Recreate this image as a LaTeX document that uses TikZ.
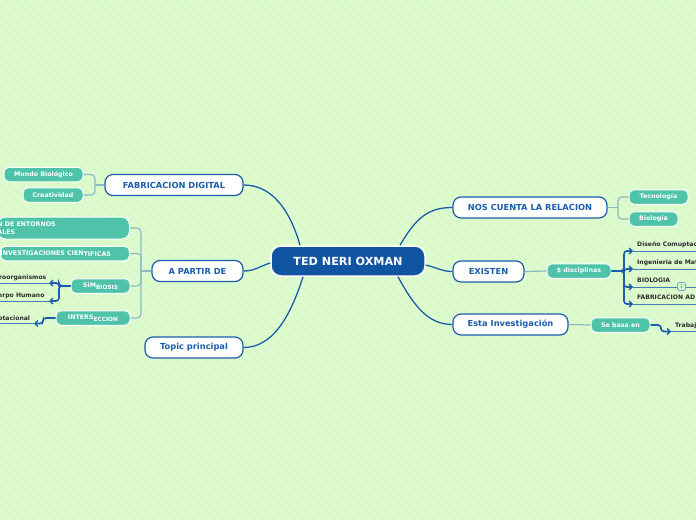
\documentclass[tikz,border=0pt]{standalone}
\usepackage{fontspec}
\setmainfont{DejaVu Sans}
\usetikzlibrary{arrows.meta}
\definecolor{bgc}{RGB}{217,250,200}
\definecolor{dkblue}{RGB}{16,84,162}
\definecolor{bordblue}{RGB}{26,93,171}
\definecolor{teal}{RGB}{78,195,170}
\definecolor{lconn}{RGB}{140,185,200}
\definecolor{lbltxt}{RGB}{45,45,45}
\tikzset{
  mainbox/.style={fill=dkblue, draw=white, line width=1.5pt, text=white, font=\bfseries\fontsize{11.2}{13}\selectfont, minimum width=154pt, minimum height=30pt, rounded corners=10pt, inner sep=0pt},
  topicbox/.style={fill=white, draw=bordblue, line width=1.2pt, text=bordblue, font=\bfseries\fontsize{8.3}{10}\selectfont, minimum height=21pt, rounded corners=8pt, inner sep=0pt},
  subbox/.style={fill=teal, draw=white, line width=1pt, text=white, font=\bfseries\fontsize{6.3}{7.5}\selectfont, minimum height=14.5pt, rounded corners=5pt, inner sep=0pt},
  lbl/.style={text=lbltxt, font=\bfseries\fontsize{6.1}{7}\selectfont, inner sep=0pt, anchor=base west},
  mainconn/.style={draw=bordblue, line width=1.3pt},
  lightconn/.style={draw=lconn, line width=1.2pt, rounded corners=4pt},
  thickarr/.style={draw=bordblue, line width=1.6pt, rounded corners=3pt, -{Straight Barb[length=3pt,width=6pt,line width=1.3pt]}},
  thinline/.style={draw=bordblue!80, line width=0.7pt},
}
\begin{document}
\begin{tikzpicture}[x=1pt,y=-1pt]
\useasboundingbox (0,0) rectangle (696,520);
\clip (0,0) rectangle (696,520);
\fill[bgc] (0,0) rectangle (696,520);
\foreach \i in {-520,-510,...,700} \draw[white, opacity=0.14, line width=4pt] (\i,0) -- (\i+520,520);

% central
\node[mainbox] (main) at (348,261) {TED NERI OXMAN};

% left topics
\node[topicbox, minimum width=138pt] (fab) at (174,185) {FABRICACION DIGITAL};
\node[topicbox, minimum width=91pt] (apartir) at (197.5,271) {A PARTIR DE};
\node[topicbox, minimum width=98pt] (topic) at (194,347.5) {Topic principal};

% right topics
\node[topicbox, minimum width=154pt] (nos) at (530,207.5) {NOS CUENTA LA RELACION};
\node[topicbox, minimum width=71pt] (existen) at (488.5,271.5) {EXISTEN};
\node[topicbox, minimum width=115pt] (esta) at (510.5,324.5) {Esta Investigación};

% main connectors
\draw[mainconn] ([xshift=-48pt]main.north) .. controls (290,210) and (272,185) .. (fab.east);
\draw[mainconn] ([yshift=-2pt]main.west) .. controls (260,266) and (255,271) .. (apartir.east);
\draw[mainconn] ([xshift=-45pt]main.south) .. controls (290,318) and (272,347.5) .. (topic.east);
\draw[mainconn] ([xshift=52pt]main.north) .. controls (416,218) and (428,207.5) .. (nos.west);
\draw[mainconn] ([yshift=-4pt]main.east) .. controls (438,268) and (442,271.5) .. (existen.west);
\draw[mainconn] ([xshift=50pt]main.south) .. controls (414,306) and (428,324.5) .. (esta.west);

% FABRICACION children
\node[subbox, minimum width=79pt] (mundo) at (43.5,174.5) {Mundo Biológico};
\node[subbox, minimum width=60pt] (creat) at (53,195) {Creatividad};
\coordinate (fabj) at (95,185);
\draw[lightconn] (fab.west) -- (fabj);
\draw[lightconn] (mundo.east) -| (fabj);
\draw[lightconn] (creat.east) -| (fabj);

% A PARTIR DE children
\node[subbox, anchor=east, text width=132pt, align=left, inner xsep=0pt, inner ysep=3.5pt, minimum height=22pt, rounded corners=8pt] (entornos) at (130,228) {N DE ENTORNOS\\ALES};
\node[subbox, anchor=east, text width=129pt, align=left, inner xsep=0pt] (invest) at (130,253.5) {INVESTIGACIONES CIEN\raisebox{-1.3pt}{TIFICAS}};
\node[subbox, minimum width=59pt] (simb) at (100.5,286) {SIM\raisebox{-1.5pt}{\fontsize{5.8}{7}\selectfont BIOSIS}};
\node[subbox, minimum width=74pt] (inter) at (93,318) {INTERS\raisebox{-1.5pt}{\fontsize{5.8}{7}\selectfont ECCION}};
\coordinate (apj) at (141,271);
\draw[lightconn] (apartir.west) -- (apj);
\draw[lightconn] (entornos.east) -| (apj);
\draw[lightconn] (invest.east) -| (apj);
\draw[lightconn] (simb.east) -| (apj);
\draw[lightconn] (inter.east) -| (apj);

% SIMBIOSIS arrows
\coordinate (micro) at (49,283);
\coordinate (cuerpo) at (49,301);
\coordinate (microend) at (0,283);
\coordinate (cuerpoend) at (0,301);
\draw[thickarr] (simb.west) -- (59,286) |- (micro);
\draw[thickarr] (simb.west) -- (59,286) |- (cuerpo);
\draw[thinline] (micro) -- (microend);
\draw[thinline] (cuerpo) -- (cuerpoend);
\node[lbl] (microlbl) at (-1,279.5) {roorganismos};
\node[lbl] (cuerpolbl) at (-2,297.5) {erpo Humano};

% INTERSECCION arrow
\coordinate (comp) at (34,323.5);
\coordinate (compend) at (0,323.5);
\draw[thickarr] (inter.west) -- (43,318) |- (comp);
\draw[thinline] (comp) -- (compend);
\node[lbl] (complbl) at (-2,320) {ptacional};

% NOS CUENTA children
\node[subbox, minimum width=59pt] (tec) at (658.5,197) {Tecnología};
\node[subbox, minimum width=49pt] (bio) at (653.5,219) {Biología};
\coordinate (nosj) at (618,207.5);
\draw[lightconn] (nos.east) -- (nosj);
\draw[lightconn] (tec.west) -| (nosj);
\draw[lightconn] (bio.west) -| (nosj);

% EXISTEN children
\node[subbox, minimum width=64pt] (disc) at (579,271) {\$ disciplinas};
\draw[lightconn] (existen.east) -- (disc.west);
\coordinate (d1) at (633,251);
\coordinate (d2) at (633,269);
\coordinate (d3) at (633,287);
\coordinate (d4) at (633,304);
\coordinate (d1e) at (696,251);
\coordinate (d2e) at (696,269);
\coordinate (d3e) at (696,287);
\coordinate (d4e) at (696,304);
\draw[thickarr] (disc.east) -- (624,271) |- (d1);
\draw[thickarr] (disc.east) -- (624,271) |- (d2);
\draw[thickarr] (disc.east) -- (624,271) |- (d3);
\draw[thickarr] (disc.east) -- (624,271) |- (d4);
\draw[thinline] (d1) -- (d1e);
\draw[thinline] (d2) -- (d2e);
\draw[thinline] (d3) -- (d3e);
\draw[thinline] (d4) -- (d4e);
\node[lbl] (l1) at (637,246) {Diseño Comuptac};
\node[lbl] (l2) at (637,264) {Ingenieria de Mat};
\node[lbl] (l3) at (637,282.5) {BIOLOGIA};
\node[lbl] (l4) at (637,299.5) {FABRICACION AD};
\node[draw=bordblue!60, fill=bgc, line width=0.7pt, rounded corners=2pt, minimum width=8pt, minimum height=8pt, inner sep=0pt, text=bordblue!70, font=\fontsize{5}{6}\selectfont] (badge) at (681.5,286.5) {1};

% Esta Investigacion children
\node[subbox, minimum width=59pt] (basa) at (620.5,325) {Se basa en};
\draw[lightconn] (esta.east) -- (basa.west);
\coordinate (trab) at (671,331.5);
\coordinate (trabe) at (696,331.5);
\draw[thickarr] (basa.east) -- (661,325) |- (trab);
\draw[thinline] (trab) -- (trabe);
\node[lbl] (trablbl) at (675,327.5) {Trabaj};
\end{tikzpicture}
\end{document}
